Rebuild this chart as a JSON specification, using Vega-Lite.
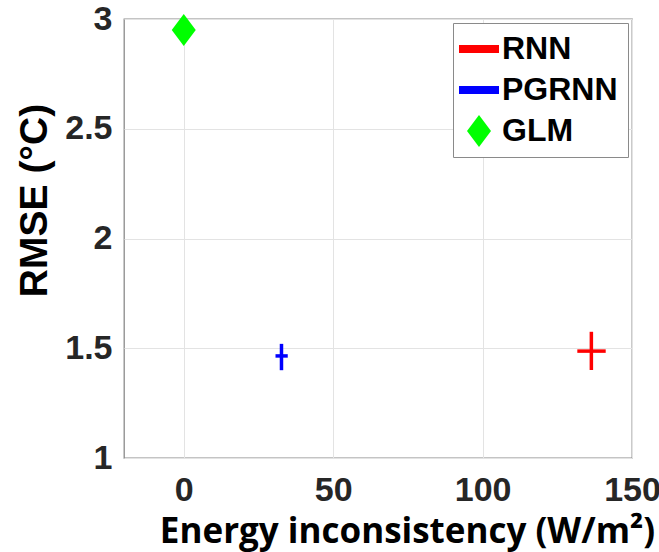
{
  "$schema": "https://vega.github.io/schema/vega-lite/v6.json",
  "width": 508,
  "height": 439,
  "autosize": "none",
  "padding": {"left": 124, "top": 19, "right": 27, "bottom": 94},
  "background": "white",
  "config": {
    "view": {"stroke": "#8a8a8a", "strokeWidth": 1.3},
    "font": "Liberation Sans",
    "legend": {
      "title": null, "orient": "top-right", "offset": 4, "padding": 10,
      "strokeColor": "#8a8a8a", "fillColor": "white",
      "labelFont": "Liberation Sans", "labelFontSize": 32, "labelFontWeight": "bold", "labelColor": "black",
      "labelOffset": 7, "rowPadding": 9, "symbolSize": 1024, "symbolOpacity": 1
    }
  },
  "data": {
    "values": [
      {"model": "RNN", "x": 136.4, "y": 1.487, "xlo": 131.7, "xhi": 141.2, "ylo": 1.401, "yhi": 1.575},
      {"model": "PGRNN", "x": 32.7, "y": 1.465, "xlo": 30.7, "xhi": 34.8, "ylo": 1.4, "yhi": 1.52},
      {"model": "GLM", "x": 0, "y": 2.95, "xlo": 0, "xhi": 0, "ylo": 2.95, "yhi": 2.95}
    ]
  },
  "layer": [
    {
      "transform": [{"filter": "datum.model !== 'GLM'"}],
      "mark": {"type": "rule", "strokeWidth": 3.5},
      "encoding": {
        "x": {
          "field": "x", "type": "quantitative",
          "scale": {"domain": [-20, 150], "nice": false, "zero": false},
          "axis": {
            "values": [0, 50, 100, 150],
            "title": "Energy inconsistency (W/m²)",
            "titleFont": "Open Sans", "titleFontSize": 35, "titleFontWeight": "bold", "titleColor": "black",
            "titleX": 283, "titleY": 84, "titleAlign": "center", "titleBaseline": "alphabetic",
            "labelFont": "Liberation Sans", "labelFontSize": 34, "labelFontWeight": "bold", "labelColor": "#262626",
            "labelPadding": 15, "labelFlush": false, "ticks": false, "domain": false,
            "gridColor": "#e3e3e3", "gridWidth": 1
          }
        },
        "y": {
          "field": "ylo", "type": "quantitative",
          "scale": {"domain": [1, 3], "nice": false, "zero": false},
          "axis": {
            "values": [1, 1.5, 2, 2.5, 3], "format": "~g",
            "title": "RMSE (°C)",
            "titleFont": "Liberation Sans", "titleFontSize": 39, "titleFontWeight": "bold", "titleColor": "black",
            "titleX": -78, "titleY": 181, "titleAlign": "center", "titleBaseline": "alphabetic", "titleAngle": -90,
            "labelFont": "Liberation Sans", "labelFontSize": 34, "labelFontWeight": "bold", "labelColor": "#262626",
            "labelPadding": 12, "labelFlush": false, "ticks": false, "domain": false,
            "gridColor": "#e3e3e3", "gridWidth": 1
          }
        },
        "y2": {"field": "yhi"},
        "color": {
          "field": "model", "type": "nominal",
          "scale": {"domain": ["RNN", "PGRNN", "GLM"], "range": ["#ff0000", "#0000ff", "#00ff00"]},
          "legend": {
            "encode": {
              "symbols": {
                "update": {
                  "stroke": {"signal": "scale('color', datum.value)"},
                  "strokeWidth": {"signal": "datum.value === 'GLM' ? 0 : 8"}
                }
              }
            }
          }
        }
      }
    },
    {
      "transform": [{"filter": "datum.model !== 'GLM'"}],
      "mark": {"type": "rule", "strokeWidth": 3.5},
      "encoding": {
        "x": {"field": "xlo", "type": "quantitative"},
        "x2": {"field": "xhi"},
        "y": {"field": "y", "type": "quantitative"},
        "color": {"field": "model", "type": "nominal"}
      }
    },
    {
      "transform": [{"filter": "datum.model === 'GLM'"}],
      "mark": {"type": "point", "filled": true, "opacity": 1, "size": 1024},
      "encoding": {
        "x": {"field": "x", "type": "quantitative"},
        "y": {"field": "y", "type": "quantitative"},
        "color": {"field": "model", "type": "nominal"},
        "shape": {
          "field": "model", "type": "nominal",
          "scale": {"domain": ["RNN", "PGRNN", "GLM"], "range": ["M-1.25,0H1.25", "M-1.25,0H1.25", "M-0.75,0L0,-1L0.75,0L0,1Z"]}
        }
      }
    }
  ]
}
